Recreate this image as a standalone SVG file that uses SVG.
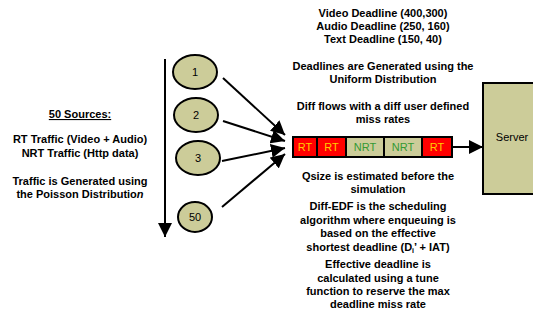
<svg xmlns="http://www.w3.org/2000/svg" width="533" height="333" viewBox="0 0 533 333">
<defs>
<marker id="ah" markerWidth="10" markerHeight="10" refX="10" refY="5" orient="auto" markerUnits="userSpaceOnUse">
<path d="M0,0 L10,5 L0,10 Z" fill="#000"/>
</marker>
<marker id="ahb" markerWidth="14" markerHeight="14" refX="14" refY="7" orient="auto" markerUnits="userSpaceOnUse">
<path d="M0,0 L14,7 L0,14 Z" fill="#000"/>
</marker>
<style>
.t{font-family:"Liberation Sans",Arial,sans-serif;font-size:11px;font-weight:bold;fill:#000;text-anchor:middle}
.n{font-family:"Liberation Sans",Arial,sans-serif;font-size:11px;fill:#000;text-anchor:middle}
.src{fill:#CCCC99;stroke:#000;stroke-width:2}
.cell{stroke:#000;stroke-width:2}
.rt{fill:#FF0000}
.nrt{fill:#CCCC99}
.rtt{font-family:"Liberation Sans",Arial,sans-serif;font-size:11px;fill:#FFCC00;text-anchor:middle}
.nrtt{font-family:"Liberation Sans",Arial,sans-serif;font-size:11px;fill:#339933;text-anchor:middle}
.c{stroke:#000;stroke-width:2;fill:none}
</style>
</defs>
<rect width="533" height="333" fill="#fff"/>

<g id="left-text">
<text class="t" x="80" y="118" text-decoration="underline">50 Sources:</text>
<text class="t" x="80" y="143">RT Traffic (Video + Audio)</text>
<text class="t" x="80" y="157">NRT Traffic (Http data)</text>
<text class="t" x="80" y="185">Traffic is Generated using</text>
<text class="t" x="80" y="198">the Poisson Distributio<tspan font-style="italic">n</tspan></text>
</g>

<g id="right-text">
<text class="t" x="383" y="17">Video Deadline (400,300)</text>
<text class="t" x="383" y="30">Audio Deadline (250, 160)</text>
<text class="t" x="383" y="43">Text Deadline (150, 40)</text>
<text class="t" x="383" y="70">Deadlines are Generated using the</text>
<text class="t" x="383" y="83">Uniform Distribution</text>
<text class="t" x="383" y="110">Diff flows with a diff user defined</text>
<text class="t" x="383" y="123">miss rates</text>
<text class="t" x="378" y="180">Qsize is estimated before the</text>
<text class="t" x="378" y="193">simulation</text>
<text class="t" x="378" y="210">Diff-EDF is the scheduling</text>
<text class="t" x="378" y="224">algorithm where enqueuing is</text>
<text class="t" x="378" y="237">based on the effective</text>
<text class="t" x="378" y="251">shortest deadline (D<tspan font-size="7" dy="2">i</tspan><tspan dy="-2">’ + IAT)</tspan></text>
<text class="t" x="378" y="268">Effective deadline is</text>
<text class="t" x="378" y="282">calculated using a tune</text>
<text class="t" x="378" y="295">function to reserve the max</text>
<text class="t" x="378" y="308">deadline miss rate</text>
</g>

<g id="connectors">
<line class="c" x1="165" y1="59" x2="165" y2="237" marker-end="url(#ahb)"/>
<line class="c" x1="223" y1="78" x2="285" y2="135" marker-end="url(#ahb)"/>
<line class="c" x1="223" y1="121" x2="285" y2="141" marker-end="url(#ahb)"/>
<line class="c" x1="222" y1="161" x2="285" y2="148" marker-end="url(#ahb)"/>
<line class="c" x1="222" y1="207" x2="285" y2="154" marker-end="url(#ahb)"/>
<line class="c" x1="452" y1="147" x2="483" y2="147" marker-end="url(#ahb)"/>
</g>

<g id="source-1"><ellipse class="src" cx="195" cy="72" rx="22" ry="17"/><text class="n" x="195" y="76">1</text></g>
<g id="source-2"><ellipse class="src" cx="196" cy="115" rx="22" ry="17"/><text class="n" x="196" y="119">2</text></g>
<g id="source-3"><ellipse class="src" cx="198" cy="158" rx="22" ry="17"/><text class="n" x="198" y="162">3</text></g>
<g id="source-50"><ellipse class="src" cx="195" cy="217" rx="17" ry="15"/><text class="n" x="195" y="221">50</text></g>

<g id="queue">
<rect class="cell rt" x="293" y="137" width="24" height="20"/>
<rect class="cell rt" x="317" y="137" width="29" height="20"/>
<rect class="cell nrt" x="346" y="137" width="38" height="20"/>
<rect class="cell nrt" x="384" y="137" width="38" height="20"/>
<rect class="cell rt" x="422" y="137" width="30" height="20"/>
<text class="rtt" x="305" y="151">RT</text>
<text class="rtt" x="331.5" y="151">RT</text>
<text class="nrtt" x="365" y="151">NRT</text>
<text class="nrtt" x="403" y="151">NRT</text>
<text class="rtt" x="437" y="151">RT</text>
</g>

<g id="server">
<rect x="483" y="83" width="60" height="111" fill="#CCCC99" stroke="#000" stroke-width="2"/>
<text class="n" x="512" y="141">Server</text>
</g>
</svg>
